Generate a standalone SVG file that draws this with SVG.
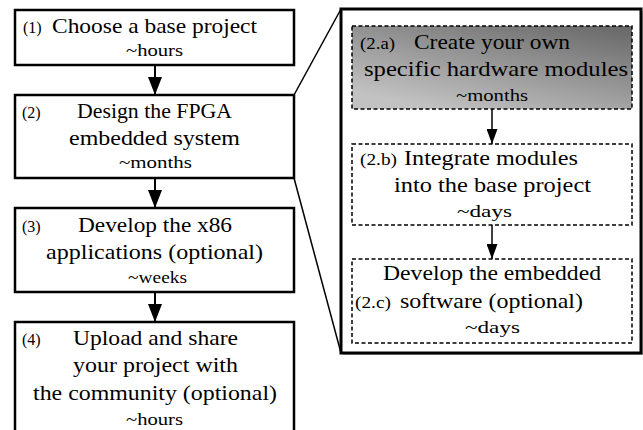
<svg xmlns="http://www.w3.org/2000/svg" width="643" height="430" viewBox="0 0 643 430">
  <style>
    text { font-family: "Liberation Serif", "Times New Roman", serif; fill: #000; }
    .main { font-size: 22px; }
    .small { font-size: 17px; }
    .lbl { font-size: 16px; }
    .box { fill: #fff; stroke: #000; stroke-width: 2.5; }
    .dbox { fill: #fff; stroke: #000; stroke-width: 1.5; stroke-dasharray: 4 2.5; }
    .conn { stroke: #000; fill: none; }
  </style>
  <defs>
    <linearGradient id="grad" x1="1" y1="0" x2="0.3" y2="1">
      <stop offset="0" stop-color="#666"/>
      <stop offset="1" stop-color="#c2c2c2"/>
    </linearGradient>
    <marker id="bigArrow" viewBox="0 0 18 14" markerWidth="18" markerHeight="14" markerUnits="userSpaceOnUse" refX="18" refY="7" orient="auto">
      <path d="M0,0 L18,7 L0,14 z" fill="#000"/>
    </marker>
    <marker id="smallArrow" viewBox="0 0 15 11" markerWidth="15" markerHeight="11" markerUnits="userSpaceOnUse" refX="15" refY="5.5" orient="auto">
      <path d="M0,0 L15,5.5 L0,11 z" fill="#000"/>
    </marker>
  </defs>

  <g id="connectors">
    <line class="conn" x1="155" y1="65" x2="155" y2="95" stroke-width="2" marker-end="url(#bigArrow)"/>
    <line class="conn" x1="155" y1="178" x2="155" y2="208" stroke-width="2" marker-end="url(#bigArrow)"/>
    <line class="conn" x1="155" y1="292" x2="155" y2="322" stroke-width="2" marker-end="url(#bigArrow)"/>
    <line class="conn" x1="294" y1="95" x2="341" y2="9" stroke-width="1.5"/>
    <line class="conn" x1="294" y1="178" x2="341" y2="353" stroke-width="1.5"/>
  </g>

  <g id="step1">
    <rect class="box" x="15" y="10" width="279" height="55"/>
    <text class="lbl" x="23" y="33">(1)</text>
    <text class="main" x="52" y="33" textLength="205" lengthAdjust="spacingAndGlyphs">Choose a base project</text>
    <text class="small" x="126" y="56" textLength="57" lengthAdjust="spacingAndGlyphs">~hours</text>
  </g>

  <g id="step2">
    <rect class="box" x="15" y="95" width="279" height="83"/>
    <text class="lbl" x="22" y="118">(2)</text>
    <text class="main" x="77" y="118" textLength="155" lengthAdjust="spacingAndGlyphs">Design the FPGA</text>
    <text class="main" x="69" y="145" textLength="171" lengthAdjust="spacingAndGlyphs">embedded system</text>
    <text class="small" x="119" y="168" textLength="73" lengthAdjust="spacingAndGlyphs">~months</text>
  </g>

  <g id="step3">
    <rect class="box" x="15" y="208" width="279" height="84"/>
    <text class="lbl" x="22" y="232">(3)</text>
    <text class="main" x="78" y="232" textLength="154" lengthAdjust="spacingAndGlyphs">Develop the x86</text>
    <text class="main" x="46" y="259" textLength="217" lengthAdjust="spacingAndGlyphs">applications (optional)</text>
    <text class="small" x="128" y="283" textLength="59" lengthAdjust="spacingAndGlyphs">~weeks</text>
  </g>

  <g id="step4">
    <rect class="box" x="15" y="322" width="279" height="120"/>
    <text class="lbl" x="22" y="345">(4)</text>
    <text class="main" x="73" y="345" textLength="165" lengthAdjust="spacingAndGlyphs">Upload and share</text>
    <text class="main" x="73" y="372" textLength="165" lengthAdjust="spacingAndGlyphs">your project with</text>
    <text class="main" x="33" y="400" textLength="244" lengthAdjust="spacingAndGlyphs">the community (optional)</text>
    <text class="small" x="126" y="425" textLength="57" lengthAdjust="spacingAndGlyphs">~hours</text>
  </g>

  <g id="detail">
    <rect x="343" y="11" width="300" height="344" fill="#bbb"/>
    <rect x="341" y="9" width="300" height="344" fill="#fff" stroke="#000" stroke-width="3"/>
  </g>

  <g id="connectors-detail">
    <line class="conn" x1="492" y1="109" x2="492" y2="144" stroke-width="1.5" marker-end="url(#smallArrow)"/>
    <line class="conn" x1="492" y1="225" x2="492" y2="259" stroke-width="1.5" marker-end="url(#smallArrow)"/>
  </g>

  <g id="step2a">
    <rect class="dbox" x="352" y="26" width="280" height="83" style="fill:url(#grad)"/>
    <text class="lbl" x="360" y="49" textLength="35" lengthAdjust="spacingAndGlyphs">(2.a)</text>
    <text class="main" x="414" y="49" textLength="156" lengthAdjust="spacingAndGlyphs">Create your own</text>
    <text class="main" x="364" y="76" textLength="264" lengthAdjust="spacingAndGlyphs">specific hardware modules</text>
    <text class="small" x="456" y="101" textLength="72" lengthAdjust="spacingAndGlyphs">~months</text>
  </g>

  <g id="step2b">
    <rect class="dbox" x="352" y="144" width="280" height="81"/>
    <text class="lbl" x="360" y="165" textLength="37" lengthAdjust="spacingAndGlyphs">(2.b)</text>
    <text class="main" x="404" y="165" textLength="174" lengthAdjust="spacingAndGlyphs">Integrate modules</text>
    <text class="main" x="394" y="192" textLength="197" lengthAdjust="spacingAndGlyphs">into the base project</text>
    <text class="small" x="457" y="217" textLength="55" lengthAdjust="spacingAndGlyphs">~days</text>
  </g>

  <g id="step2c">
    <rect class="dbox" x="352" y="259" width="280" height="84"/>
    <text class="main" x="383" y="280" textLength="218" lengthAdjust="spacingAndGlyphs">Develop the embedded</text>
    <text class="lbl" x="355" y="308" textLength="36" lengthAdjust="spacingAndGlyphs">(2.c)</text>
    <text class="main" x="400" y="308" textLength="183" lengthAdjust="spacingAndGlyphs">software (optional)</text>
    <text class="small" x="465" y="333" textLength="55" lengthAdjust="spacingAndGlyphs">~days</text>
  </g>
</svg>
